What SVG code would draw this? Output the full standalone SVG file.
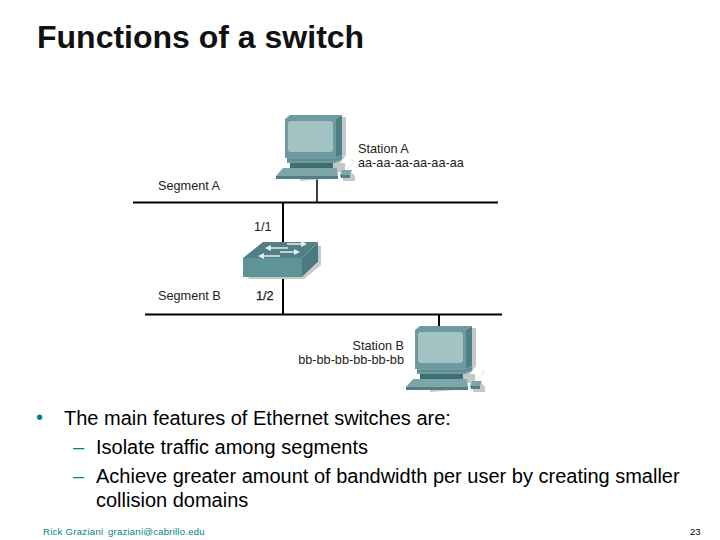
<svg xmlns="http://www.w3.org/2000/svg" xmlns:xlink="http://www.w3.org/1999/xlink" width="720" height="540" viewBox="0 0 720 540">
<style>
text{font-family:"Liberation Sans",Arial,sans-serif;fill:#000}
.t{font-size:32px;font-weight:bold;fill:#111}
.l{font-size:12.7px;fill:#222}
.b{font-size:20px}
.a{fill:#008080}
.f{font-size:9.5px;fill:#008080;letter-spacing:.3px}
.n{font-size:9.5px;fill:#000}
.w{stroke:#000;fill:none}
</style>
<defs>
<g id="pc">
<path d="M342 117H346V155L340 163H345V172H336V178L300 181V166L337 160Z" fill="#c4c8c8"/>
<path d="M352 173L355 176V181H343V176Z" fill="#c4c8c8"/>
<path d="M335 119L342 115V155L335 161Z" fill="#4f7f84"/>
<path d="M285 119L290 115H342L335 119Z" fill="#6c9a9e"/>
<rect x="285" y="119" width="51" height="39" fill="#6e9a9f"/>
<rect x="288" y="121" width="45" height="31" rx="3" fill="#a3c2c4"/>
<path d="M287 157H336L342 155V160L335 163H287Z" fill="#6e9ca0"/>
<path d="M287 160H335L342 157" stroke="#4f7f84" fill="none"/>
<rect x="290" y="163" width="43" height="5" fill="#3f6e72"/>
<path d="M283 168H337L338 176H276Z" fill="#7ea6a9"/>
<path d="M276 176H338V179H276Z" fill="#4e8085"/>
<path d="M342 170H352L350 175H340Z" fill="#7ea6a9"/>
<path d="M340 175H350V178H341Z" fill="#4e8085"/>
<path d="M347 169L355 161L351 160" stroke="#d5dcdc" stroke-width="1" stroke-dasharray="2 1" fill="none"/>
</g>
</defs>
<text class="t" x="37" y="48">Functions of a switch</text>
<g id="connectors">
<path class="w" stroke-width="2" d="M133 202.500H498"/>
<path class="w" stroke-width="2" d="M145 314.500H502"/>
<path class="w" stroke-width="1.500" d="M317 178V202"/>
<path class="w" stroke-width="2" d="M283 202V315"/>
<path class="w" stroke-width="2" d="M439 315V327"/>
</g>
<g id="station-a">
<use href="#pc" xlink:href="#pc"/>
<text class="l" x="358" y="153">Station A</text>
<text class="l" x="358" y="167">aa-aa-aa-aa-aa-aa</text>
</g>
<g id="segment-a"><text class="l" x="158" y="190">Segment A</text></g>
<g id="port-1-1"><text class="l" x="254" y="231">1/1</text></g>
<g id="switch">
<path d="M321 246V265L304 279H249L248 277H302L318 263V246Z" fill="#c4c8c8"/>
<path d="M243 258L263 242H318L302 258Z" fill="#527f84"/>
<path d="M243 258H302V277H243Z" fill="#5e9398"/>
<path d="M302 258L318 242V262L302 277Z" fill="#4b7b80"/>
<path d="M270 248H288M287 244H302M264 256H280M280 252H295" stroke="#e6eeee" stroke-width="1.500" fill="none"/>
<path d="M265 248L271 245V251ZM307 244L301 241V247ZM258 256L264 253V259ZM300 252L294 249V255Z" fill="#e6eeee"/>
</g>
<g id="segment-b"><text class="l" x="158" y="300">Segment B</text></g>
<g id="port-1-2"><text class="l" x="256" y="300" stroke="#222" stroke-width=".25">1/2</text></g>
<g id="station-b">
<use href="#pc" xlink:href="#pc" transform="translate(130 211)"/>
<text class="l" x="404" y="350" text-anchor="end">Station B</text>
<text class="l" x="404" y="364" text-anchor="end">bb-bb-bb-bb-bb-bb</text>
</g>
<g id="body">
<text class="b a" x="36" y="424">•</text>
<text class="b" x="64" y="425">The main features of Ethernet switches are:</text>
<text class="b a" x="73" y="454">–</text>
<text class="b" x="96" y="454">Isolate traffic among segments</text>
<text class="b a" x="73" y="483">–</text>
<text class="b" x="96" y="483">Achieve greater amount of bandwidth per user by creating smaller</text>
<text class="b" x="96" y="507">collision domains</text>
</g>
<text class="f" x="43" y="535">Rick Graziani</text>
<text class="f" x="108" y="535" style="letter-spacing:.25px">graziani@cabrillo.edu</text>
<text class="n" x="690" y="535">23</text>
</svg>
